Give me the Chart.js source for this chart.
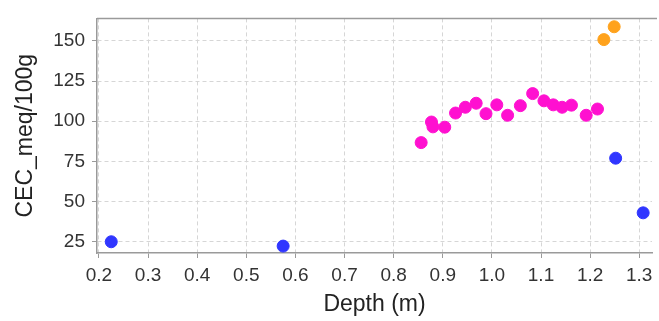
<!DOCTYPE html>
<html>
<head>
<meta charset="utf-8">
<script src="https://cdn.jsdelivr.net/npm/chart.js@4/dist/chart.umd.min.js"></script>
<style>
  html, body { margin: 0; padding: 0; background: #fff; }
  canvas { display: block; }
</style>
</head>
<body>
<canvas id="cecChart" width="659" height="321"></canvas>
<script>
// === Data ===
const blueDepth = [0.225, 0.575, 1.252, 1.308];
const blueCec = [25, 22.3, 77, 43];

const pinkDepth = [0.856, 0.877, 0.880, 0.904, 0.926, 0.946, 0.968, 0.988, 1.010, 1.032, 1.058, 1.083, 1.106, 1.125, 1.143, 1.162, 1.192, 1.215];
const pinkCec = [86.7, 99.5, 96.5, 96.3, 105.1, 108.7, 111.2, 104.7, 110.2, 103.7, 109.7, 117.2, 112.7, 110.2, 108.7, 110.0, 103.7, 107.6];

const orangeDepth = [1.228, 1.249];
const orangeCec = [150.8, 158.8];

const xTicks = [0.2, 0.3, 0.4, 0.5, 0.6, 0.7, 0.8, 0.9, 1.0, 1.1, 1.2, 1.3];
const yTicks = [25, 50, 75, 100, 125, 150];

const toPoints = (xs, ys) => xs.map((x, i) => ({ x: x, y: ys[i] }));

const gridColor = "#d6d6d6";
const axisColor = "#9a9a9a";
const tickFont = { family: "Liberation Sans", size: 19 };
const titleFont = { family: "Liberation Sans", size: 23 };

// top frame line
const topFrame = {
  id: "topFrame",
  afterDraw(chart) {
    const { ctx, chartArea } = chart;
    ctx.save();
    ctx.strokeStyle = axisColor;
    ctx.lineWidth = 1.5;
    ctx.beginPath();
    ctx.moveTo(chartArea.left, chartArea.top);
    ctx.lineTo(chartArea.right + 5, chartArea.top);
    ctx.stroke();
    ctx.restore();
  }
};

function dataset(xs, ys, color) {
  return {
    data: toPoints(xs, ys),
    backgroundColor: color,
    borderColor: color,
    pointRadius: 6,
    pointBorderWidth: 1,
    pointHoverRadius: 6
  };
}

new Chart(document.getElementById("cecChart").getContext("2d"), {
  type: "scatter",
  data: {
    datasets: [
      dataset(pinkDepth, pinkCec, "#ff10d0"),
      dataset(orangeDepth, orangeCec, "#ffa21c"),
      dataset(blueDepth, blueCec, "#3036ff")
    ]
  },
  options: {
    responsive: false,
    animation: false,
    layout: { padding: { top: 10, right: 3, left: 0, bottom: 0 } },
    plugins: { legend: { display: false }, tooltip: { enabled: false } },
    scales: {
      x: {
        type: "linear",
        min: 0.196,
        max: 1.326,
        afterBuildTicks: s => { s.ticks = xTicks.map(v => ({ value: v })); },
        afterFit: s => { s.height = 68; },
        ticks: {
          font: tickFont,
          color: "#333",
          padding: 6,
          maxRotation: 0,
          autoSkip: false,
          callback: v => Number(v).toFixed(1)
        },
        grid: { color: gridColor, tickColor: axisColor, tickLength: 5, lineWidth: 1 },
        border: { color: axisColor, width: 1.5, dash: [4, 3] },
        title: { display: true, text: "Depth (m)", font: titleFont, color: "#222", padding: { top: 0, bottom: 3 } }
      },
      y: {
        type: "linear",
        min: 18,
        max: 164,
        afterBuildTicks: s => { s.ticks = yTicks.map(v => ({ value: v })); },
        afterFit: s => { s.width = 97; },
        ticks: { font: tickFont, color: "#333", padding: 7, autoSkip: false },
        grid: { color: gridColor, tickColor: axisColor, tickLength: 5, lineWidth: 1 },
        border: { color: axisColor, width: 1.5, dash: [4, 3] },
        title: { display: true, text: "CEC_meq/100g", font: titleFont, color: "#222", padding: { top: 12, bottom: 0 } }
      }
    }
  },
  plugins: [topFrame]
});
</script>
</body>
</html>
